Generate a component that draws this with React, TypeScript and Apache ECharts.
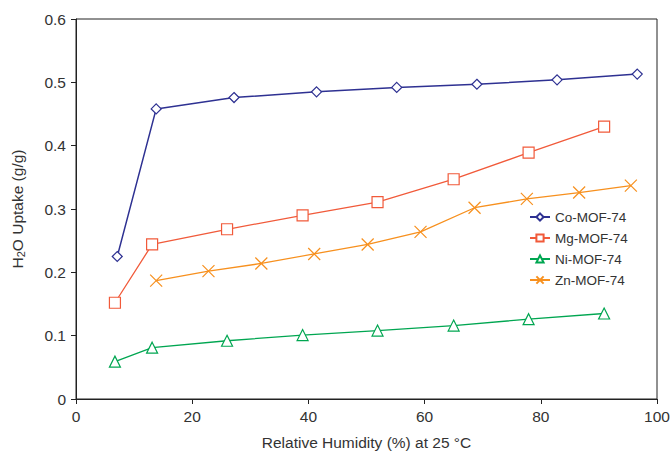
import React, { useEffect, useRef } from "react";
import * as echarts from "echarts";

const coX = [7.1, 13.8, 27.2, 41.4, 55.2, 69.0, 82.8, 96.6];
const coY = [0.225, 0.458, 0.476, 0.485, 0.492, 0.497, 0.504, 0.513];
const mgX = [6.7, 13.1, 26.0, 39.0, 51.9, 65.0, 77.9, 90.9];
const mgY = [0.152, 0.244, 0.268, 0.290, 0.311, 0.347, 0.389, 0.430];
const niX = [6.7, 13.1, 26.0, 39.0, 51.9, 65.0, 77.9, 90.9];
const niY = [0.059, 0.081, 0.092, 0.101, 0.108, 0.116, 0.126, 0.135];
const znX = [13.8, 22.8, 31.9, 41.0, 50.2, 59.3, 68.6, 77.6, 86.6, 95.5];
const znY = [0.187, 0.202, 0.214, 0.229, 0.244, 0.264, 0.302, 0.316, 0.326, 0.337];

const seriesNames = ["Co-MOF-74", "Mg-MOF-74", "Ni-MOF-74", "Zn-MOF-74"];
const colors = ["#2E3192", "#F15A3A", "#00A651", "#F7901E"];

const crossPath = "path://M0,0L10,10M10,0L0,10";

const pair = (xs: number[], ys: number[]) => xs.map((x, i) => [x, ys[i]]);

export default function App() {
  const ref = useRef<HTMLDivElement>(null);
  useEffect(() => {
    if (!ref.current) return;
    const chart = echarts.init(ref.current, null, { renderer: "svg" });
    const font = "Arial, 'Liberation Sans', sans-serif";
    const symbols = ["diamond", "rect", "triangle", crossPath];
    const sizes = [10, 11, 11, 12];
    const datas = [pair(coX, coY), pair(mgX, mgY), pair(niX, niY), pair(znX, znY)];
    chart.setOption({
      animation: false,
      backgroundColor: "#fff",
      textStyle: { fontFamily: font },
      grid: {
        left: 76,
        right: 13,
        top: 19,
        bottom: 53,
        show: true,
        borderColor: "#222",
        borderWidth: 1,
        containLabel: false,
        outerBoundsMode: "none",
      },
      legend: {
        orient: "vertical",
        left: 524,
        top: 205,
        itemWidth: 20,
        itemHeight: 9,
        itemGap: 7,
        textStyle: { fontSize: 13.5, color: "#333", fontFamily: font },
        data: seriesNames,
      },
      xAxis: {
        type: "value",
        min: 0,
        max: 100,
        interval: 20,
        name: "Relative Humidity (%) at 25 \u00B0C",
        nameLocation: "middle",
        nameGap: 35,
        nameTextStyle: { fontSize: 15.5, color: "#333", fontFamily: font },
        axisLine: { show: true, lineStyle: { color: "#222", width: 1 } },
        axisTick: { show: true, inside: false, length: 5, lineStyle: { color: "#222" } },
        axisLabel: { fontSize: 15.5, color: "#333", margin: 9, fontFamily: font },
        splitLine: { show: false },
      },
      yAxis: {
        type: "value",
        min: 0,
        max: 0.6,
        interval: 0.1,
        name: "{a|H}{s|2}{a|O Uptake (g/g)}",
        nameLocation: "middle",
        nameGap: 50,
        nameTextStyle: {
          fontSize: 15.5,
          color: "#333",
          fontFamily: font,
          rich: {
            a: { fontSize: 15.5, color: "#333", fontFamily: font },
            s: { fontSize: 11, color: "#333", fontFamily: font, verticalAlign: "bottom", padding: [7, 0, 0, 0] },
          },
        },
        axisLine: { show: true, lineStyle: { color: "#222", width: 1 } },
        axisTick: { show: true, inside: false, length: 5, lineStyle: { color: "#222" } },
        axisLabel: {
          fontSize: 15.5,
          color: "#333",
          margin: 10,
          fontFamily: font,
          formatter: (v: number) => (v === 0 ? "0" : v.toFixed(1)),
        },
        splitLine: { show: false },
      },
      series: seriesNames.map((n, i) => ({
        name: n,
        type: "line",
        data: datas[i],
        symbol: symbols[i],
        symbolSize: sizes[i],
        showAllSymbol: true,
        itemStyle: { color: "#fff", borderColor: colors[i], borderWidth: 1.2 },
        lineStyle: { color: colors[i], width: i === 0 ? 1.5 : 1.3 },
        color: colors[i],
      })),
    });
    return () => chart.dispose();
  }, []);
  return <div ref={ref} style={{ width: 670, height: 452, position: "absolute", left: 0, top: 0 }} />;
}
